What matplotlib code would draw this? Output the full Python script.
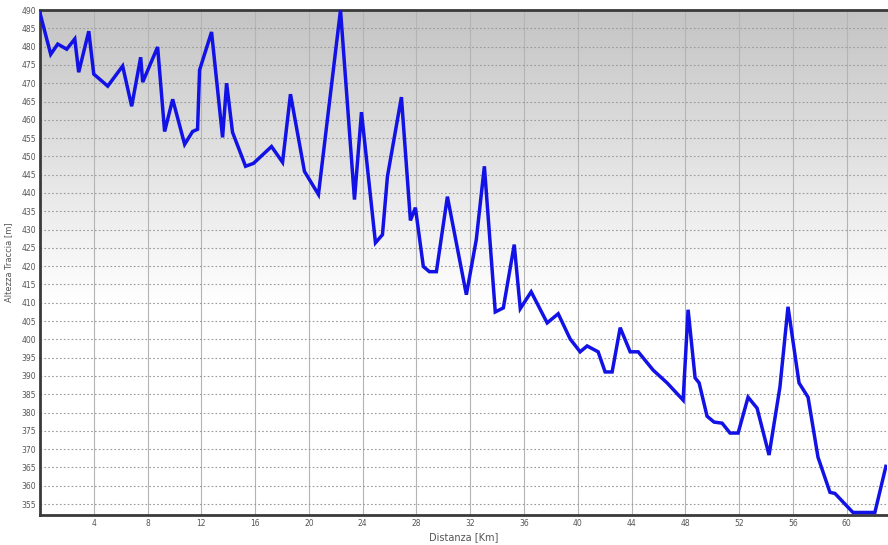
import numpy as np
import matplotlib.pyplot as plt
from matplotlib.colors import LinearSegmentedColormap

# profilo altimetrico
distanza = [0.0, 0.80, 1.32, 1.99, 2.59, 2.88, 3.63, 4.0, 5.04, 6.15, 6.82, 7.49,
            7.64, 8.75, 9.27, 9.87, 10.76, 11.35, 11.72, 11.87, 12.76, 13.58, 13.88,
            14.32, 15.29, 15.88, 17.22, 18.04, 18.63, 19.67, 20.71, 22.35, 23.39,
            23.91, 24.95, 25.47, 25.84, 26.88, 27.55, 27.92, 28.51, 28.96, 29.48,
            30.30, 31.71, 32.45, 33.05, 33.86, 34.46, 35.27, 35.72, 36.53, 37.72,
            38.54, 39.43, 40.17, 40.69, 41.51, 42.03, 42.55, 43.15, 43.89, 44.49,
            45.60, 46.64, 47.83, 48.20, 48.72, 49.02, 49.61, 50.13, 50.73, 51.32,
            51.92, 52.66, 53.33, 54.22, 55.03, 55.63, 56.45, 57.12, 57.86, 58.75,
            59.12, 60.46, 62.09, 62.91]
altezza = [489.2, 477.9, 480.7, 479.3, 482.1, 473.0, 484.2, 472.5, 469.2, 474.7,
           463.7, 477.1, 470.3, 479.9, 456.8, 465.6, 453.3, 456.8, 457.4, 473.6,
           484.0, 455.2, 470.0, 456.6, 447.3, 448.1, 452.7, 448.4, 467.0, 445.9,
           439.6, 490.0, 438.2, 462.1, 426.4, 428.6, 444.5, 466.2, 432.5, 436.0,
           419.9, 418.5, 418.5, 439.0, 412.2, 427.3, 447.3, 407.5, 408.6, 425.9,
           408.4, 413.0, 404.5, 407.0, 400.1, 396.6, 398.2, 396.6, 391.1, 391.1,
           403.2, 396.6, 396.6, 391.6, 388.1, 383.4, 408.1, 389.5, 388.1, 379.0,
           377.4, 377.1, 374.4, 374.4, 384.2, 381.2, 368.4, 387.0, 408.9, 388.1,
           384.2, 367.8, 358.2, 357.9, 352.7, 352.7, 365.3]

xticks = list(range(4, 61, 4))
yticks = list(range(355, 491, 5))

fig = plt.figure(figsize=(8.88, 5.45), dpi=100)
ax = fig.add_axes([0.045, 0.055, 0.954, 0.9266])

# sfondo sfumato grigio -> bianco
cmap = LinearSegmentedColormap.from_list('bg', [(0, '#ffffff'), (0.42, '#ffffff'),
                                               (1.0, '#c4c4c4')])
grad = np.linspace(0, 1, 256).reshape(-1, 1)
ax.imshow(grad, cmap=cmap, aspect='auto', origin='lower',
          extent=[0, 1, 0, 1], transform=ax.transAxes, zorder=0)

ax.set_xlim(0, 63)
ax.set_ylim(352, 490)

for x in xticks:
    ax.axvline(x, color='#b4b4b4', lw=0.8, zorder=1)
for y in yticks:
    ax.axhline(y, color='#9a9a9a', lw=0.8, ls=(0, (1.5, 2)), zorder=1)

ax.plot(distanza, altezza, color='#1212e6', lw=2.5, zorder=3,
        solid_joinstyle='miter')

ax.set_xticks(xticks)
ax.set_yticks(yticks)
ax.tick_params(length=0, labelsize=5.5, labelcolor='#555555', pad=3)
ax.set_xlabel('Distanza [Km]', fontsize=7, color='#555555', labelpad=3)
ax.set_ylabel('Altezza Traccia [m]', fontsize=6, color='#555555', labelpad=6)

for s in ['left', 'bottom', 'top']:
    ax.spines[s].set_color('#3a3a3a')
    ax.spines[s].set_linewidth(2)
ax.spines['right'].set_visible(False)

fig.savefig('out.png', dpi=100)
